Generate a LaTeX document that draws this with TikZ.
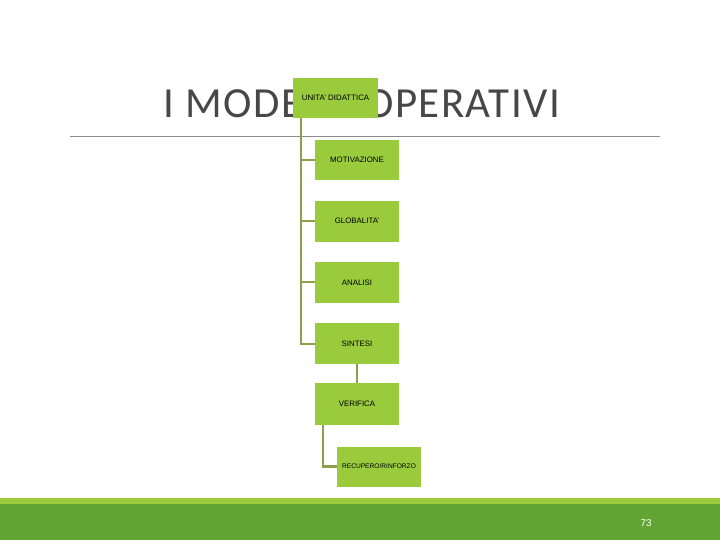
\documentclass[tikz,border=0pt]{standalone}
\usepackage{fontspec}
\setmainfont{Liberation Sans}
\newfontfamily\titlefont[LetterSpace=3.5]{Carlito}
\usepackage{tikz}

\definecolor{boxgreen}{HTML}{9ACB3C}
\definecolor{linkgreen}{HTML}{8C9F4A}
\definecolor{bandlight}{HTML}{9BCB3B}
\definecolor{banddark}{HTML}{62A535}
\definecolor{titlegray}{HTML}{474747}

\tikzset{
    stepbox/.style={fill=boxgreen,minimum width=2.1cm,minimum height=1.02cm,
        inner sep=0pt,font=\fontsize{5.6}{7}\selectfont,text=black},
    link/.style={draw=linkgreen,line width=1.5pt}
}

\begin{document}
\begin{tikzpicture}[x=0.025cm,y=-0.025cm]
    \useasboundingbox (0,0) rectangle (720,540);

    % title and rule
    \node[anchor=base,text=titlegray,inner sep=0pt,font=\titlefont\fontsize{30.5}{34}\selectfont]
        (title) at (362,117.5) {I MODELLI OPERATIVI};
    \draw[gray!90,line width=0.7pt] (70,136.5) -- (660,136.5);

    % boxes
    \node[stepbox,minimum height=1.0cm] (unita) at (335.5,98) {UNITA' DIDATTICA};
    \foreach [count=\row from 0] \name/\txt in {mot/MOTIVAZIONE,glob/GLOBALITA',anal/ANALISI,sint/SINTESI} {
        \node[stepbox] (\name) at (357,{160+\row*61.2}) {\txt};
    }
    \node[stepbox,minimum height=1.05cm] (ver) at (357,404) {VERIFICA};
    \node[stepbox,minimum height=1.0cm,font=\fontsize{4.7}{6}\selectfont] (rec) at (379,466.5) {RECUPERO/RINFORZO};

    % connectors
    \coordinate (trunk) at ([xshift=0.2cm]unita.south west);
    \foreach \name in {mot,glob,anal,sint} {
        \draw[link] (trunk) |- (\name.west);
    }
    \draw[link] (sint) -- (ver);
    \coordinate (branch) at ([xshift=0.2cm]ver.south west);
    \draw[link] (branch) |- (rec.west);

    % footer band
    \fill[bandlight] (0,498) rectangle (720,504);
    \fill[banddark] (0,504) rectangle (720,540);
    \node[text=white,font=\fontsize{7}{8}\selectfont] (page) at (646,523.5) {73};
\end{tikzpicture}
\end{document}
